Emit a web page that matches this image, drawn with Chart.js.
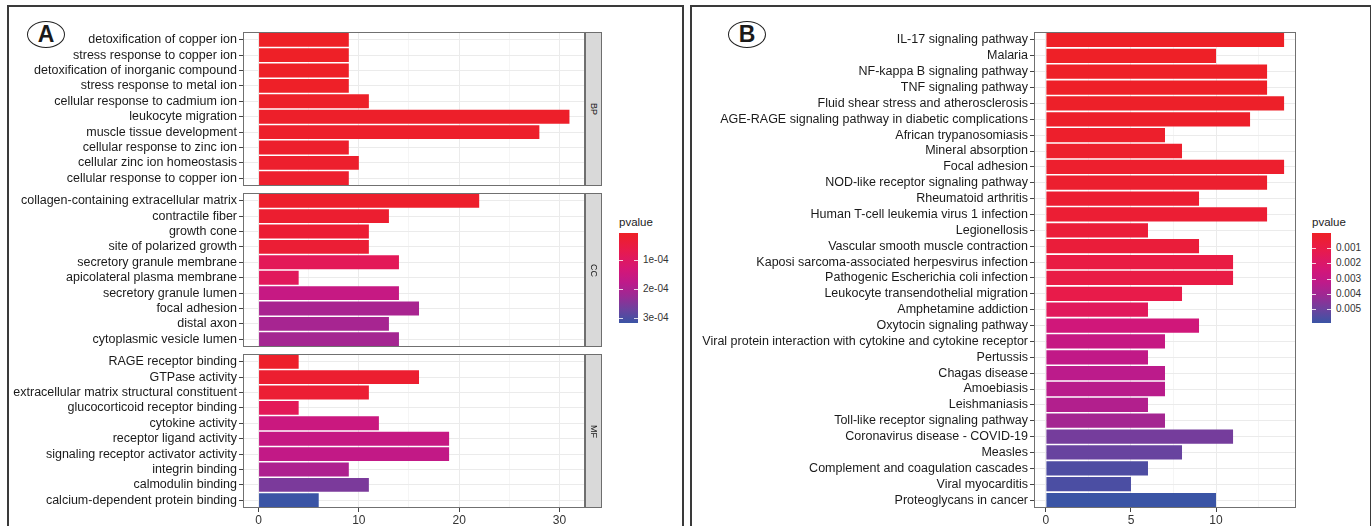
<!DOCTYPE html>
<html>
<head>
<meta charset="utf-8">
<title>GO / KEGG enrichment</title>
<script src="https://cdn.jsdelivr.net/npm/chart.js@4.4.1/dist/chart.umd.min.js"></script>
<style>
  body { margin: 0; background: #fff; font-family: "Liberation Sans", Arial, sans-serif; }
  #page { position: relative; width: 1371px; height: 526px; overflow: hidden; }
  .frame { position: absolute; border: 2px solid #3a3a3a; box-sizing: border-box; }
  .tag {
    position: absolute; width: 38px; height: 27px; box-sizing: border-box;
    border: 1.5px solid #222; border-radius: 50%;
    text-align: center; line-height: 25px; font-weight: bold; font-size: 23px; color: #1a1a1a;
  }
  canvas { position: absolute; }
  .strip {
    position: absolute; width: 17px; box-sizing: border-box;
    background: #d9d9d9; border: 1px solid #6e6e6e;
    display: flex; align-items: center; justify-content: center;
  }
  .strip span { writing-mode: vertical-rl; font-size: 9px; color: #1a1a1a; }
  .lg-title { position: absolute; font-size: 11.5px; color: #222; }
  .lg-bar { position: absolute; width: 19px; }
  .lg-tick { position: absolute; width: 4px; height: 1px; background: rgba(255,255,255,0.8); }
  .lg-label { position: absolute; font-size: 10px; color: #333; line-height: 12px; }
</style>
</head>
<body>
<div id="page">
  <div class="frame" style="left:7px; top:5px; width:677px; height:540px;"></div>
  <div class="frame" style="left:690px; top:5px; width:682px; height:540px;"></div>
  <div class="tag" style="left:27px; top:21px;">A</div>
  <div class="tag" style="left:728px; top:21px;">B</div>

  <canvas id="bp" width="575" height="158" style="left:12px; top:30px;"></canvas>
  <canvas id="cc" width="575" height="158" style="left:12px; top:191px;"></canvas>
  <canvas id="mf" width="575" height="174" style="left:12px; top:352px;"></canvas>
  <div class="strip" style="left:585px; top:32px; height:154px;"><span>BP</span></div>
  <div class="strip" style="left:585px; top:193px; height:154px;"><span>CC</span></div>
  <div class="strip" style="left:585px; top:354px; height:154px;"><span>MF</span></div>

  <canvas id="kegg" width="604" height="498" style="left:694px; top:28px;"></canvas>

  <div id="legendA"></div>
  <div id="legendB"></div>
</div>

<script>
// ---- panel A: GO terms (count, pvalue) ----
const bpTerms = [
  "detoxification of copper ion", "stress response to copper ion", "detoxification of inorganic compound",
  "stress response to metal ion", "cellular response to cadmium ion", "leukocyte migration",
  "muscle tissue development", "cellular response to zinc ion", "cellular zinc ion homeostasis",
  "cellular response to copper ion"
];
const bpCounts = [9, 9, 9, 9, 11, 31, 28, 9, 10, 9];
const bpPvalues = [7e-6, 8e-6, 9e-6, 1.0e-5, 1.2e-5, 1.3e-5, 1.5e-5, 1.6e-5, 1.8e-5, 1.9e-5];

const ccTerms = [
  "collagen-containing extracellular matrix", "contractile fiber", "growth cone", "site of polarized growth",
  "secretory granule membrane", "apicolateral plasma membrane", "secretory granule lumen", "focal adhesion",
  "distal axon", "cytoplasmic vesicle lumen"
];
const ccCounts = [22, 13, 11, 11, 14, 4, 14, 16, 13, 14];
const ccPvalues = [1.6e-5, 2.3e-5, 2.9e-5, 3.0e-5, 8.5e-5, 9.1e-5, 1.63e-4, 2.07e-4, 2.1e-4, 2.13e-4];

const mfTerms = [
  "RAGE receptor binding", "GTPase activity", "extracellular matrix structural constituent",
  "glucocorticoid receptor binding", "cytokine activity", "receptor ligand activity",
  "signaling receptor activator activity", "integrin binding", "calmodulin binding",
  "calcium-dependent protein binding"
];
const mfCounts = [4, 16, 11, 4, 12, 19, 19, 9, 11, 6];
const mfPvalues = [1.3e-5, 2.3e-5, 2.9e-5, 8.5e-5, 1.54e-4, 1.63e-4, 1.7e-4, 2.0e-4, 2.57e-4, 3.19e-4];

// ---- panel B: KEGG pathways ----
const keggTerms = [
  "IL-17 signaling pathway", "Malaria", "NF-kappa B signaling pathway", "TNF signaling pathway",
  "Fluid shear stress and atherosclerosis", "AGE-RAGE signaling pathway in diabetic complications",
  "African trypanosomiasis", "Mineral absorption", "Focal adhesion", "NOD-like receptor signaling pathway",
  "Rheumatoid arthritis", "Human T-cell leukemia virus 1 infection", "Legionellosis",
  "Vascular smooth muscle contraction", "Kaposi sarcoma-associated herpesvirus infection",
  "Pathogenic Escherichia coli infection", "Leukocyte transendothelial migration", "Amphetamine addiction",
  "Oxytocin signaling pathway", "Viral protein interaction with cytokine and cytokine receptor",
  "Pertussis", "Chagas disease", "Amoebiasis", "Leishmaniasis", "Toll-like receptor signaling pathway",
  "Coronavirus disease - COVID-19", "Measles", "Complement and coagulation cascades",
  "Viral myocarditis", "Proteoglycans in cancer"
];
const keggCounts = [14, 10, 13, 13, 14, 12, 7, 8, 14, 13, 9, 13, 6, 9, 11, 11, 8, 6, 9, 7,
                    6, 7, 7, 6, 7, 11, 8, 6, 5, 10];
const keggPvalues = [0.00001, 0.00004, 0.00007, 0.00008, 0.0001, 0.00013, 0.00019, 0.00022, 0.00025, 0.00028,
                     0.00036, 0.00042, 0.00054, 0.0006, 0.0009, 0.00092, 0.00107, 0.0016, 0.00254, 0.00296,
                     0.00313, 0.0033, 0.00337, 0.00354, 0.0039, 0.00484, 0.00508, 0.00555, 0.0056, 0.0059];

const xTicksA = [0, 10, 20, 30];
const xTicksB = [0, 5, 10];
const legendTicksA = [1e-4, 2e-4, 3e-4];
const legendLabelsA = ["1e-04", "2e-04", "3e-04"];
const legendTicksB = [0.001, 0.002, 0.003, 0.004, 0.005];
const legendLabelsB = ["0.001", "0.002", "0.003", "0.004", "0.005"];

Chart.defaults.font.family = '"Liberation Sans", Arial, sans-serif';

// red -> magenta -> blue, as the printed figure shows it
const gradStops = [
  [0.00, [238, 32, 38]],
  [0.20, [231, 26, 78]],
  [0.40, [213, 22, 118]],
  [0.55, [190, 26, 138]],
  [0.70, [155, 42, 148]],
  [0.85, [108, 66, 158]],
  [1.00, [58, 84, 165]]
];
function rampColor(t) {
  t = Math.max(0, Math.min(1, t));
  for (let i = 1; i < gradStops.length; i++) {
    if (t <= gradStops[i][0]) {
      const [t0, c0] = gradStops[i - 1], [t1, c1] = gradStops[i];
      const f = (t - t0) / (t1 - t0);
      const c = c0.map((v, k) => Math.round(v + (c1[k] - v) * f));
      return `rgb(${c[0]},${c[1]},${c[2]})`;
    }
  }
  return "rgb(58,84,165)";
}

// panel outline drawn on top like ggplot's panel.border
const panelBorder = {
  id: "panelBorder",
  afterDraw(chart) {
    const a = chart.chartArea, c = chart.ctx;
    c.save();
    c.strokeStyle = "#707070";
    c.lineWidth = 1;
    c.strokeRect(Math.round(a.left) + 0.5, Math.round(a.top) + 0.5, Math.round(a.width) - 1, Math.round(a.height) - 1);
    c.restore();
  }
};

function makeBars(id, terms, counts, pvals, pRange, xMax, majors, yWidth, showX, padTop) {
  const lo = -xMax * 0.05, hi = xMax * 1.05;
  const step = majors[1] - majors[0];
  const allTicks = [];
  for (let v = majors[0]; v <= hi; v += step / 2) allTicks.push(v);
  const isMajor = v => majors.includes(v);
  const colors = pvals.map(p => rampColor((p - pRange[0]) / (pRange[1] - pRange[0])));

  new Chart(document.getElementById(id), {
    type: "bar",
    data: {
      labels: terms,
      datasets: [{ data: counts, backgroundColor: colors, barPercentage: 0.9, categoryPercentage: 1 }]
    },
    options: {
      indexAxis: "y",
      responsive: false,
      animation: false,
      devicePixelRatio: 1,
      layout: { padding: { top: padTop, right: 2, bottom: showX ? 0 : 2, left: 0 } },
      plugins: { legend: { display: false }, tooltip: { enabled: false } },
      scales: {
        x: {
          min: lo, max: hi,
          afterBuildTicks: s => { s.ticks = allTicks.map(v => ({ value: v })); },
          afterFit: s => { s.height = showX ? 18 : 0; s.paddingLeft = 0; s.paddingRight = 0; },
          border: { display: false },
          grid: {
            color: ctx => isMajor(ctx.tick.value) ? "#ebebeb" : "#f5f5f5",
            tickColor: ctx => isMajor(ctx.tick.value) ? "#444" : "rgba(0,0,0,0)",
            tickLength: 4,
            drawTicks: showX
          },
          ticks: {
            display: showX, autoSkip: false, maxRotation: 0, padding: 1,
            color: "#333", font: { size: 12 },
            callback: v => isMajor(v) ? String(v) : ""
          }
        },
        y: {
          afterFit: s => { s.width = yWidth; s.paddingTop = 0; s.paddingBottom = 0; },
          border: { display: false },
          grid: { offset: false, color: "#ebebeb", tickColor: "#444", tickLength: 4 },
          ticks: { autoSkip: false, padding: 2, color: "#1a1a1a", font: { size: 12.5 } }
        }
      }
    },
    plugins: [panelBorder]
  });
}

function buildLegend(el, left, top, pRange, ticks, labels) {
  const h = 90, w = 19;
  const t = document.createElement("div");
  t.className = "lg-title"; t.textContent = "pvalue";
  t.style.left = left + "px"; t.style.top = (top - 17) + "px";
  el.appendChild(t);
  const bar = document.createElement("div");
  bar.className = "lg-bar";
  bar.style.left = left + "px"; bar.style.top = top + "px"; bar.style.height = h + "px";
  bar.style.background = "linear-gradient(to bottom, " +
    gradStops.map(s => rampColor(s[0]) + " " + (s[0] * 100) + "%").join(", ") + ")";
  el.appendChild(bar);
  ticks.forEach((v, i) => {
    const y = top + (v - pRange[0]) / (pRange[1] - pRange[0]) * h;
    [left, left + w - 4].forEach(x => {
      const m = document.createElement("div");
      m.className = "lg-tick"; m.style.left = x + "px"; m.style.top = Math.round(y) + "px";
      el.appendChild(m);
    });
    const l = document.createElement("div");
    l.className = "lg-label"; l.textContent = labels[i];
    l.style.left = (left + w + 5) + "px"; l.style.top = (y - 6) + "px";
    el.appendChild(l);
  });
}

const pA = bpPvalues.concat(ccPvalues, mfPvalues);
const rangeA = [Math.min(...pA), Math.max(...pA)];
const maxA = Math.max(...bpCounts, ...ccCounts, ...mfCounts);
const rangeB = [Math.min(...keggPvalues), Math.max(...keggPvalues)];
const maxB = Math.max(...keggCounts);

makeBars("bp", bpTerms, bpCounts, bpPvalues, rangeA, maxA, xTicksA, 231, false, 2);
makeBars("cc", ccTerms, ccCounts, ccPvalues, rangeA, maxA, xTicksA, 231, false, 2);
makeBars("mf", mfTerms, mfCounts, mfPvalues, rangeA, maxA, xTicksA, 231, true, 2);
makeBars("kegg", keggTerms, keggCounts, keggPvalues, rangeB, maxB, xTicksB, 340, true, 4);

buildLegend(document.getElementById("legendA"), 619, 233, rangeA, legendTicksA, legendLabelsA);
buildLegend(document.getElementById("legendB"), 1312, 233, rangeB, legendTicksB, legendLabelsB);
</script>
</body>
</html>
